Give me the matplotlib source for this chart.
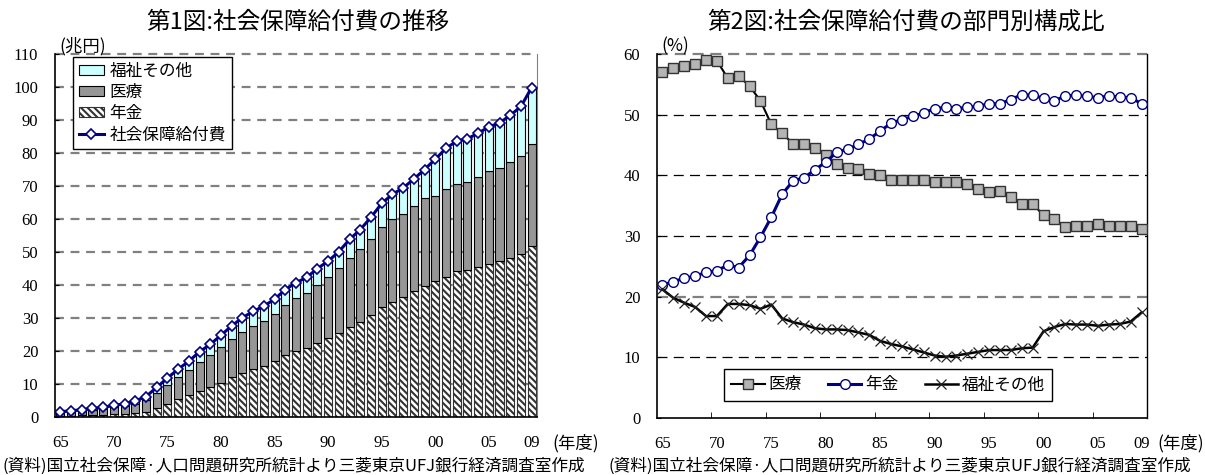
import matplotlib.pyplot as plt
from matplotlib.lines import Line2D
from matplotlib.patches import Patch

plt.rcParams['font.family'] = ['Noto Sans CJK JP', 'DejaVu Sans']
plt.rcParams['hatch.linewidth'] = 1.5

NUM_FONT = 'Liberation Serif'

YEARS = list(range(1965, 2010))
YEAR_TICKS = [1965, 1970, 1975, 1980, 1985, 1990, 1995, 2000, 2005, 2009]
YEAR_LABELS = ['65', '70', '75', '80', '85', '90', '95', '00', '05', '09']

# 第1図 (兆円)
TOTAL = [1.6, 1.9, 2.2, 2.6, 2.9, 3.5, 4.0, 4.9, 6.2, 9.0,
         11.8, 14.5, 16.9, 19.8, 22.0, 24.8, 27.6, 30.1, 32.0, 33.6,
         35.7, 38.6, 40.7, 42.3, 45.0, 47.2, 50.1, 53.8, 56.8, 60.5,
         64.7, 67.5, 69.4, 72.1, 75.0, 78.1, 81.4, 83.6, 84.3, 86.0,
         87.9, 89.1, 91.4, 94.1, 99.8]
PENSION = [0.35, 0.43, 0.51, 0.61, 0.70, 0.86, 1.01, 1.22, 1.66, 2.68,
           3.89, 5.34, 6.59, 7.84, 8.98, 10.44, 12.03, 13.33, 14.40, 15.42,
           16.89, 18.72, 19.98, 20.98, 22.55, 24.02, 25.60, 27.38, 28.91, 31.04,
           33.45, 34.90, 36.30, 38.29, 39.83, 41.08, 42.49, 44.31, 44.68, 45.49,
           46.32, 47.22, 48.26, 49.50, 51.70]
MEDICAL = [0.91, 1.10, 1.28, 1.52, 1.71, 2.06, 2.24, 2.76, 3.39, 4.70,
           5.70, 6.79, 7.64, 8.91, 9.79, 10.74, 11.54, 12.40, 13.09, 13.57,
           14.28, 15.17, 15.95, 16.58, 17.60, 18.36, 19.44, 20.87, 21.87, 22.87,
           24.00, 25.04, 25.33, 25.52, 26.48, 25.93, 26.62, 26.33, 26.64, 27.26,
           28.13, 28.16, 28.97, 29.74, 30.94]
WELFARE = [0.34, 0.38, 0.42, 0.48, 0.49, 0.59, 0.75, 0.92, 1.15, 1.62,
           2.21, 2.38, 2.67, 3.05, 3.23, 3.62, 4.03, 4.37, 4.51, 4.60,
           4.53, 4.71, 4.76, 4.74, 4.86, 4.81, 5.06, 5.54, 6.02, 6.59,
           7.25, 7.56, 7.77, 8.29, 8.70, 11.09, 12.29, 12.96, 12.98, 13.24,
           13.45, 13.72, 14.17, 14.87, 17.17]

# 第2図 (%)
SHARE_MEDICAL = [57.0, 57.7, 58.0, 58.4, 59.0, 58.9, 56.0, 56.4, 54.7, 52.3,
                 48.4, 46.9, 45.2, 45.1, 44.5, 43.3, 41.8, 41.2, 41.0, 40.3,
                 40.0, 39.3, 39.3, 39.3, 39.2, 38.9, 38.9, 38.9, 38.5, 37.8,
                 37.2, 37.4, 36.5, 35.3, 35.3, 33.4, 32.8, 31.5, 31.7, 31.7,
                 32.0, 31.6, 31.7, 31.6, 31.1]
SHARE_PENSION = [21.9, 22.5, 23.0, 23.4, 24.0, 24.3, 25.2, 24.8, 26.8, 29.8,
                 33.1, 36.9, 39.1, 39.6, 40.9, 42.2, 43.8, 44.3, 45.1, 46.0,
                 47.3, 48.6, 49.2, 49.7, 50.3, 51.0, 51.2, 51.0, 51.2, 51.4,
                 51.8, 51.8, 52.5, 53.3, 53.2, 52.7, 52.3, 53.1, 53.2, 53.0,
                 52.8, 53.1, 52.9, 52.8, 51.8]
SHARE_WELFARE = [21.2, 19.8, 19.0, 18.3, 16.8, 16.8, 18.8, 18.8, 18.6, 18.0,
                 18.7, 16.4, 15.8, 15.4, 14.8, 14.6, 14.6, 14.5, 14.1, 13.7,
                 12.7, 12.2, 11.8, 11.3, 10.8, 10.3, 10.1, 10.3, 10.6, 10.9,
                 11.2, 11.2, 11.2, 11.5, 11.6, 14.3, 15.0, 15.5, 15.4, 15.4,
                 15.2, 15.4, 15.5, 15.9, 17.4]

W, H = 1205, 475
fig = plt.figure(figsize=(W / 100, H / 100), dpi=100)


def frac_box(x0, x1, ytop, ybot):
    return [x0 / W, 1 - ybot / H, (x1 - x0) / W, (ybot - ytop) / H]


def style_axis(ax):
    ax.set_xlim(1964.5, 2009.5)
    ax.set_xticks(YEAR_TICKS)
    ax.set_xticklabels(YEAR_LABELS)
    ax.tick_params(axis='x', length=0, pad=13)
    ax.tick_params(axis='y', length=3, direction='in', pad=12)
    ax.tick_params(axis='both', labelsize=12, labelfontfamily=NUM_FONT)
    ax.spines['top'].set_visible(False)
    ax.spines['left'].set_linewidth(1.2)
    ax.spines['bottom'].set_linewidth(1.2)


# ---- 第1図 ----
ax1 = fig.add_axes(frac_box(55, 537, 54, 417))
ax1.set_ylim(0, 110)
ax1.set_yticks(range(0, 111, 10))
for v in range(10, 111, 10):
    ax1.axhline(v, color='#808080', lw=1.6, ls=(0, (4, 3)), zorder=0.5, clip_on=False)

bw = 0.75
hatch = '\\\\\\\\\\'
ax1.bar(YEARS, PENSION, width=bw, color='white', edgecolor='#333333',
        hatch=hatch, linewidth=0.8, zorder=2)
ax1.bar(YEARS, MEDICAL, width=bw, bottom=PENSION, color='#969696',
        edgecolor='black', linewidth=0.8, zorder=2)
base2 = [p + m for p, m in zip(PENSION, MEDICAL)]
ax1.bar(YEARS, WELFARE, width=bw, bottom=base2, color='#CCFFFF',
        edgecolor='black', linewidth=0.8, zorder=2)
ax1.plot(YEARS, TOTAL, color='#000080', lw=2.2, marker='D', ms=5.5,
         mfc='white', mec='#000080', mew=1.2, zorder=3)
style_axis(ax1)
ax1.spines['right'].set_color('#808080')

h1 = [Patch(facecolor='#CCFFFF', edgecolor='black', lw=0.8),
      Patch(facecolor='#969696', edgecolor='black', lw=0.8),
      Patch(facecolor='white', edgecolor='#333333', hatch=hatch, lw=0.8),
      Line2D([], [], color='#000080', lw=2.2, marker='D', ms=5.5,
             mfc='white', mec='#000080', mew=1.2)]
leg1 = ax1.legend(h1, ['福祉その他', '医療', '年金', '社会保障給付費'],
                  loc='upper left', bbox_to_anchor=(17.7 / 482, 1 - 3 / 363),
                  fontsize=12, frameon=True, fancybox=False, framealpha=1,
                  edgecolor='black', borderpad=0.35, labelspacing=0.25,
                  handlelength=1.55, handleheight=0.5, handletextpad=0.3,
                  borderaxespad=0)
leg1.get_frame().set_linewidth(1.0)
leg1.set_zorder(5)

# ---- 第2図 ----
ax2 = fig.add_axes(frac_box(657, 1147, 54, 418))
ax2.set_ylim(0, 60)
ax2.set_yticks(range(0, 61, 10))
for v in [10, 30, 40, 50]:
    ax2.axhline(v, color='black', lw=0.9, ls=(0, (8, 5)), zorder=0.5)
for v in [20, 60]:
    ax2.axhline(v, color='#808080', lw=1.6, ls=(0, (5, 3)), zorder=0.5, clip_on=False)

ax2.plot(YEARS, SHARE_MEDICAL, color='black', lw=1.5, marker='s', ms=6.5,
         mfc='#B4B4B4', mec='#333333', mew=1.0, zorder=3, label='医療')
ax2.plot(YEARS, SHARE_PENSION, color='#000080', lw=2.2, marker='o', ms=7,
         mfc='white', mec='#000080', mew=1.0, zorder=3, label='年金')
ax2.plot(YEARS, SHARE_WELFARE, color='black', lw=1.8, marker='x', ms=7,
         mec='#222222', mew=0.9, zorder=3, label='福祉その他')
style_axis(ax2)
ax2.set_xticks([1969.5, 1974.5, 1979.5, 1984.5, 1989.5, 1994.5, 1999.5, 2004.5], minor=True)
ax2.tick_params(axis='x', which='minor', length=4, direction='in')
ax2.spines['right'].set_linewidth(1.0)

leg2 = ax2.legend(loc='lower left', bbox_to_anchor=(67 / 490, 17 / 364), ncol=3,
                  fontsize=12, frameon=True, fancybox=False, framealpha=1,
                  edgecolor='black', borderpad=0.45, columnspacing=1.6,
                  handlelength=2.0, handletextpad=0.2, borderaxespad=0,
                  numpoints=1)
leg2.get_frame().set_linewidth(1.0)

# ---- texts ----
fig.text(298 / W, 1 - 22 / H, '第1図:社会保障給付費の推移', ha='center', va='center', fontsize=17)
fig.text(906 / W, 1 - 22 / H, '第2図:社会保障給付費の部門別構成比', ha='center', va='center', fontsize=17)
fig.text(59 / W, 1 - 46 / H, '(兆円)', ha='left', va='center', fontsize=12.5)
fig.text(661 / W, 1 - 46 / H, '(%)', ha='left', va='center', fontsize=12.5)
fig.text(552 / W, 1 - 443 / H, '(年度)', ha='left', va='center', fontsize=12.5)
fig.text(1157 / W, 1 - 443 / H, '(年度)', ha='left', va='center', fontsize=12.5)
note = '(資料)国立社会保障·人口問題研究所統計より三菱東京UFJ銀行経済調査室作成'
fig.text(2 / W, 1 - 466 / H, note, ha='left', va='center', fontsize=12.0)
fig.text(609 / W, 1 - 466 / H, note, ha='left', va='center', fontsize=12.0)

fig.savefig('out.png', dpi=100)
